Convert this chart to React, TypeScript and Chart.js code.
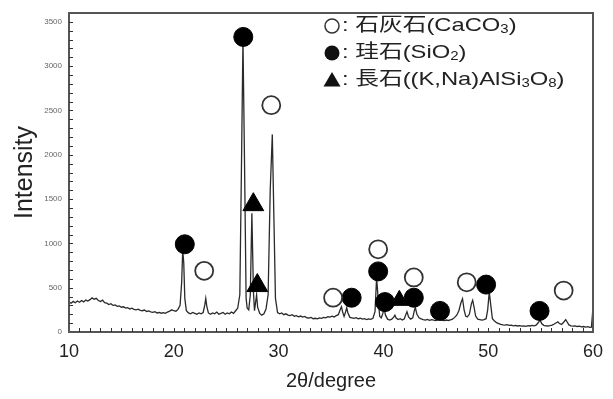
import React, { useEffect, useRef } from "react";
import { Chart, registerables } from "chart.js";

Chart.register(...registerables);

// 2θ (degree), intensity (counts)
const xrdPattern: [number, number][] = [
  [10.0, 340], [10.2, 325], [10.4, 345], [10.6, 330], [10.8, 350], [11.0, 335], [11.2, 355], [11.4, 340],
  [11.6, 360], [11.8, 350], [12.0, 365], [12.2, 385], [12.4, 370], [12.6, 380], [12.8, 355], [13.0, 345],
  [13.2, 360], [13.4, 330], [13.6, 325], [13.8, 310], [14.0, 320], [14.2, 300], [14.4, 305], [14.6, 290],
  [14.8, 295], [15.0, 280], [15.2, 285], [15.4, 270], [15.6, 275], [15.8, 260], [16.0, 268], [16.2, 255],
  [16.4, 250], [16.6, 258], [16.8, 245], [17.0, 240], [17.2, 248], [17.4, 232], [17.6, 238], [17.8, 228],
  [18.0, 222], [18.2, 230], [18.4, 215], [18.6, 220], [18.8, 212], [19.0, 218], [19.2, 210], [19.4, 225],
  [19.6, 235], [19.8, 250], [20.0, 240], [20.2, 235], [20.4, 255], [20.6, 300], [20.75, 560], [20.85, 920],
  [20.95, 780], [21.05, 380], [21.2, 240], [21.4, 215], [21.6, 205], [21.8, 220], [22.0, 210], [22.2, 200],
  [22.4, 215], [22.6, 205], [22.8, 220], [22.95, 300], [23.05, 380], [23.15, 290], [23.3, 215], [23.5, 200],
  [23.7, 215], [23.9, 205], [24.1, 225], [24.3, 200], [24.5, 210], [24.7, 220], [24.9, 200], [25.1, 215],
  [25.3, 205], [25.5, 225], [25.7, 210], [25.9, 240], [26.1, 270], [26.3, 420], [26.45, 1800], [26.6, 3300],
  [26.75, 1900], [26.9, 380], [27.0, 270], [27.15, 250], [27.3, 420], [27.45, 1340], [27.6, 450], [27.7, 240],
  [27.8, 330], [27.9, 420], [28.0, 280], [28.2, 210], [28.4, 190], [28.6, 205], [28.8, 260], [29.0, 420],
  [29.2, 1600], [29.4, 2230], [29.55, 1300], [29.7, 380], [29.9, 220], [30.1, 205], [30.3, 215], [30.5, 195],
  [30.7, 205], [30.9, 190], [31.1, 185], [31.3, 195], [31.5, 178], [31.7, 185], [31.9, 172], [32.1, 180],
  [32.3, 168], [32.5, 175], [32.7, 160], [32.9, 158], [33.1, 165], [33.3, 150], [33.5, 155], [33.7, 148],
  [33.9, 160], [34.1, 155], [34.3, 165], [34.5, 160], [34.7, 172], [34.9, 168], [35.1, 178], [35.3, 170],
  [35.5, 185], [35.7, 195], [35.9, 260], [36.0, 285], [36.1, 230], [36.25, 175], [36.4, 230], [36.5, 275],
  [36.6, 220], [36.8, 165], [37.0, 160], [37.2, 155], [37.4, 162], [37.6, 150], [37.8, 155], [38.0, 145],
  [38.2, 150], [38.4, 140], [38.6, 148], [38.8, 142], [39.0, 155], [39.2, 230], [39.35, 610], [39.5, 380],
  [39.65, 175], [39.8, 160], [39.95, 210], [40.05, 275], [40.2, 190], [40.4, 145], [40.6, 135], [40.8, 145],
  [41.0, 170], [41.1, 190], [41.2, 160], [41.4, 140], [41.6, 150], [41.8, 135], [42.0, 150], [42.1, 185],
  [42.25, 228], [42.4, 170], [42.6, 145], [42.8, 160], [42.95, 240], [43.05, 275], [43.2, 200], [43.4, 160],
  [43.6, 148], [43.8, 140], [44.0, 135], [44.2, 142], [44.4, 132], [44.6, 140], [44.8, 135], [45.0, 128],
  [45.2, 140], [45.4, 150], [45.6, 135], [45.8, 128], [46.0, 135], [46.2, 130], [46.4, 138], [46.6, 145],
  [46.8, 165], [47.0, 190], [47.2, 240], [47.4, 330], [47.55, 375], [47.7, 250], [47.85, 180], [48.0, 170],
  [48.2, 200], [48.4, 320], [48.52, 358], [48.65, 280], [48.8, 180], [49.0, 145], [49.2, 140], [49.4, 135],
  [49.6, 140], [49.8, 150], [49.95, 250], [50.1, 450], [50.25, 300], [50.4, 150], [50.6, 125], [50.8, 105],
  [51.0, 95], [51.2, 85], [51.4, 80], [51.6, 78], [51.8, 82], [52.0, 75], [52.2, 78], [52.4, 70],
  [52.6, 74], [52.8, 68], [53.0, 72], [53.2, 66], [53.4, 70], [53.6, 64], [53.8, 72], [54.0, 68],
  [54.2, 74], [54.4, 70], [54.6, 80], [54.8, 110], [54.95, 135], [55.1, 95], [55.3, 75], [55.5, 70],
  [55.7, 68], [55.9, 72], [56.1, 78], [56.3, 90], [56.5, 105], [56.65, 115], [56.8, 95], [57.0, 85],
  [57.2, 110], [57.4, 140], [57.55, 110], [57.7, 80], [57.9, 70], [58.1, 66], [58.3, 70], [58.5, 62],
  [58.7, 66], [58.9, 58], [59.1, 62], [59.3, 55], [59.5, 60], [59.7, 52], [59.85, 55], [59.95, 200],
  [60.0, 300],
];

// phase markers [2θ, height]
const calciteMarks: [number, number][] = [
  [22.9, 690], [29.3, 2560], [35.2, 387], [39.5, 933], [42.9, 616], [47.95, 561], [57.2, 468],
];
const quartzMarks: [number, number][] = [
  [21.05, 990], [26.63, 3330], [36.97, 387], [39.5, 684], [40.15, 338], [42.9, 387], [45.4, 238], [49.8, 535], [54.9, 238],
];
const feldsparMarks: [number, number][] = [
  [27.59, 1437], [27.97, 524], [41.52, 357],
];

const xTickLabels = [10, 20, 30, 40, 50, 60];
const yTickLabels = [0, 500, 1000, 1500, 2000, 2500, 3000, 3500];

// legend text pieces: [text, isSubscript]
const legendRows: { symbol: "open" | "filled" | "triangle"; parts: [string, boolean][] }[] = [
  { symbol: "open", parts: [[": 石灰石(CaCO", false], ["3", true], [")", false]] },
  { symbol: "filled", parts: [[": 珪石(SiO", false], ["2", true], [")", false]] },
  { symbol: "triangle", parts: [[": 長石((K,Na)AlSi", false], ["3", true], ["O", false], ["8", true], [")", false]] },
];

const FONT = "'Liberation Sans', Arial, 'Noto Sans CJK JP', sans-serif";

const framePlugin = {
  id: "frameTicks",
  afterDatasetsDraw(chart: any) {
    const { ctx, chartArea, scales } = chart;
    const { left, right, top, bottom } = chartArea;
    const x = scales.x;
    const y = scales.y;
    ctx.save();
    ctx.strokeStyle = "#555";
    ctx.lineWidth = 2;
    ctx.strokeRect(left, top, right - left, bottom - top);
    ctx.strokeStyle = "#333";
    ctx.lineWidth = 1;
    ctx.beginPath();
    for (let v = 100; v < y.max; v += 100) {
      const py = Math.round(y.getPixelForValue(v)) + 0.5;
      ctx.moveTo(left, py);
      ctx.lineTo(left + 4, py);
    }
    for (let d = x.min + 1; d < x.max; d += 1) {
      const px = Math.round(x.getPixelForValue(d)) + 0.5;
      ctx.moveTo(px, bottom);
      ctx.lineTo(px, bottom - 4);
    }
    ctx.stroke();
    ctx.restore();
  },
};

const legendPlugin = {
  id: "phaseLegend",
  afterDraw(chart: any) {
    const { ctx } = chart;
    const symX = 332;
    const textX = 342;
    const rowY = [26, 53, 80];
    const scaleX = 1.25;
    ctx.save();
    legendRows.forEach((row, i) => {
      const cy = rowY[i];
      ctx.fillStyle = "#111";
      ctx.strokeStyle = "#333";
      ctx.lineWidth = 1.5;
      if (row.symbol === "open") {
        ctx.beginPath();
        ctx.arc(symX, cy, 7, 0, Math.PI * 2);
        ctx.stroke();
      } else if (row.symbol === "filled") {
        ctx.beginPath();
        ctx.arc(symX, cy, 7.5, 0, Math.PI * 2);
        ctx.fill();
      } else {
        ctx.beginPath();
        ctx.moveTo(symX, cy - 8);
        ctx.lineTo(symX + 8.5, cy + 6.5);
        ctx.lineTo(symX - 8.5, cy + 6.5);
        ctx.closePath();
        ctx.fill();
      }
      ctx.save();
      ctx.translate(textX, cy);
      ctx.scale(scaleX, 1);
      let cx = 0;
      ctx.fillStyle = "#222";
      ctx.textBaseline = "middle";
      row.parts.forEach(([t, sub]) => {
        ctx.font = sub ? `12px ${FONT}` : `19px ${FONT}`;
        ctx.fillText(t, cx, sub ? 4 : 0);
        cx += ctx.measureText(t).width;
      });
      ctx.restore();
    });
    ctx.restore();
  },
};

export default function App() {
  const canvasRef = useRef<HTMLCanvasElement | null>(null);

  useEffect(() => {
    const canvas = canvasRef.current;
    if (!canvas) return;
    Chart.defaults.font.family = FONT;
    const chart = new Chart(canvas, {
      type: "scatter",
      data: {
        datasets: [
          {
            label: "石灰石(CaCO3)",
            data: calciteMarks.map(([x, y]) => ({ x, y })),
            pointStyle: "circle",
            pointRadius: 9,
            backgroundColor: "#ffffff",
            borderColor: "#333333",
            borderWidth: 1.8,
            order: 0,
          },
          {
            label: "珪石(SiO2)",
            data: quartzMarks.map(([x, y]) => ({ x, y })),
            pointStyle: "circle",
            pointRadius: 9.5,
            backgroundColor: "#000000",
            borderColor: "#000000",
            borderWidth: 1,
            order: 0,
          },
          {
            label: "長石((K,Na)AlSi3O8)",
            data: feldsparMarks.map(([x, y]) => ({ x, y })),
            pointStyle: "triangle",
            pointRadius: [12, 12, 10],
            backgroundColor: "#000000",
            borderColor: "#000000",
            borderWidth: 1,
            order: 0,
          },
          {
            label: "XRD",
            data: xrdPattern.map(([x, y]) => ({ x, y })),
            showLine: true,
            pointRadius: 0,
            borderColor: "#2a2a2a",
            borderWidth: 1.3,
            tension: 0,
            order: 1,
          } as any,
        ],
      },
      options: {
        responsive: false,
        animation: false,
        devicePixelRatio: 1,
        layout: { padding: { left: 0, top: 9, right: 20, bottom: 0 } },
        plugins: { legend: { display: false }, tooltip: { enabled: false } },
        scales: {
          x: {
            type: "linear",
            min: 10,
            max: 60,
            afterBuildTicks: (s: any) => { s.ticks = xTickLabels.map((v) => ({ value: v })); },
            ticks: { autoSkip: false, font: { size: 18 }, color: "#222", padding: 9 },
            grid: { display: false, drawTicks: false },
            border: { display: false },
            title: { display: true, text: "2θ/degree", font: { size: 20 }, color: "#222", padding: { bottom: 6, top: 0 } },
            afterFit: (s: any) => { s.height = 67; },
          },
          y: {
            type: "linear",
            min: 0,
            max: 3600,
            afterBuildTicks: (s: any) => { s.ticks = yTickLabels.map((v) => ({ value: v })); },
            ticks: {
              autoSkip: false,
              font: { size: 8 },
              color: "#666",
              padding: 7,
              callback: (v: any) => String(v),
            },
            grid: { display: false, drawTicks: false },
            border: { display: false },
            title: { display: true, text: "Intensity", font: { size: 25 }, color: "#222", padding: { top: 10, bottom: 0 } },
            afterFit: (s: any) => { s.width = 69; },
          },
        },
      } as any,
      plugins: [framePlugin, legendPlugin],
    });
    return () => chart.destroy();
  }, []);

  return (
    <div style={{ position: "absolute", left: 0, top: 0, width: 613, height: 399, background: "#fff" }}>
      <canvas ref={canvasRef} width={613} height={399} style={{ display: "block" }} />
    </div>
  );
}
